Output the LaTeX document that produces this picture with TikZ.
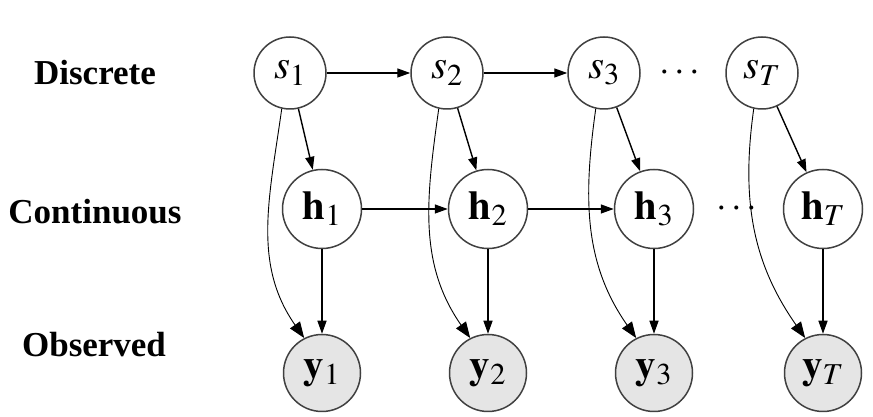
\documentclass[tikz,border=0pt]{standalone}
\usepackage{mathptmx}
\usepackage[no-math]{fontspec}
\setmainfont{Liberation Serif}
\usetikzlibrary{arrows.meta}

\begin{document}
\begin{tikzpicture}[
  x=1pt, y=1pt,
  >={Triangle[length=13pt,width=9pt]},
  state/.style={circle, draw=black!75, line width=1.5pt, minimum size=72pt, inner sep=0pt, font=\fontsize{41}{44}\selectfont},
  hidden/.style={state, minimum size=79pt},
  obs/.style={state, minimum size=77pt, fill=black!10},
  rowlabel/.style={font=\fontsize{35}{40}\selectfont\bfseries},
  dots/.style={font=\fontsize{38}{40}\selectfont},
  link/.style={->, line width=1.4pt},
  jump/.style={-{Triangle[length=16pt,width=12pt]}, line width=0.9pt},
]
\useasboundingbox[fill=white] (0,0) rectangle (873,417);

% Row labels
\node[rowlabel] (discrete) at (95,344) {Discrete};
\node[rowlabel] (continuous) at (95,205) {Continuous};
\node[rowlabel] (observed) at (94,72) {Observed};

% Nodes for each time step
\foreach \i/\t/\xs/\xh in {1/1/290/322, 2/2/447/488, 3/3/604/654, 4/T/762/823} {
  \node[state] (s\i) at (\xs,344) {$s_\t$};
  \node[hidden] (h\i) at (\xh,208) {$\mathbf{h}_\t$};
  \node[obs] (y\i) at (\xh,44) {$\mathbf{y}_\t$};
}

% Gaps before the last step
\node[dots] (sdots) at (680,344) {$\cdots$};
\node[dots] (hdots) at (737,208) {$\cdots$};

% Transitions
\draw[link] (s1) -- (s2);
\draw[link] (s2) -- (s3);
\draw[link] (h1) -- (h2);
\draw[link] (h2) -- (h3);

% Emissions
\foreach \i in {1,...,4} {
  \draw[link] (s\i) -- (h\i);
  \draw[link] (h\i) -- (y\i);
  \draw[jump] (s\i.257) to[out=262, in=125] (y\i.117);
}
\end{tikzpicture}
\end{document}
